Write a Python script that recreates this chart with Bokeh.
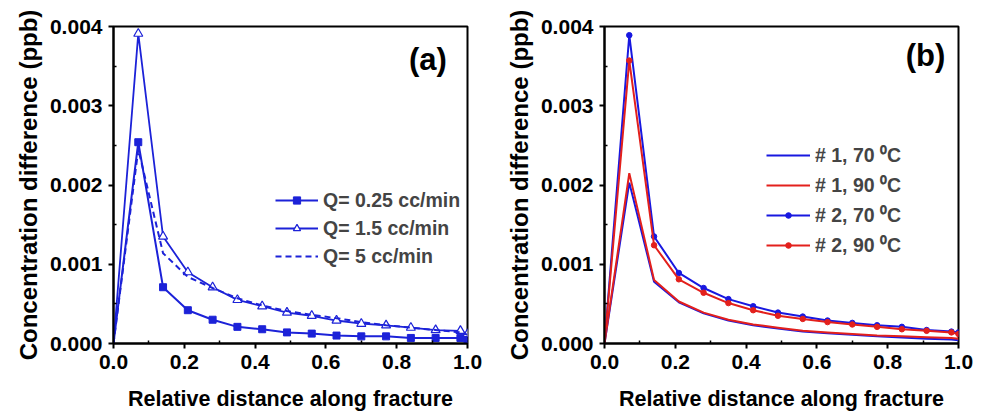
from bokeh.plotting import figure
from bokeh.layouts import row
from bokeh.models import Legend, LegendItem, FixedTicker, NumeralTickFormatter, Range1d
from bokeh.core.properties import value
from bokeh.embed import file_html
from bokeh.resources import INLINE

# ---------------- data ----------------
x = [0.0, 0.07, 0.14, 0.21, 0.28, 0.35, 0.42, 0.49, 0.56, 0.63, 0.70, 0.77, 0.84, 0.91, 0.98, 1.0]

# panel (a)
q025 = [0.0, 0.00254, 0.00071, 0.00042, 0.00030, 0.00021, 0.00018, 0.00014, 0.000125, 0.00010,
        0.00009, 0.00009, 0.00007, 0.00007, 0.00007, 0.00005]
q15 = [0.0, 0.00391, 0.00135, 0.00090, 0.00071, 0.00055, 0.00047, 0.00039, 0.00035, 0.00029,
       0.00025, 0.00023, 0.00020, 0.00017, 0.00016, 0.00012]
q5 = [0.0, 0.00245, 0.00114, 0.00084, 0.00070, 0.00057, 0.00048, 0.00041, 0.00036, 0.00032,
      0.00027, 0.00023, 0.00020, 0.00017, 0.00014, 0.00011]
labels_a = ["Q= 0.25 cc/min", "Q= 1.5 cc/min", "Q= 5 cc/min"]

# panel (b)
s1_70 = [0.0, 0.00203, 0.00078, 0.00052, 0.00038, 0.00029, 0.00023, 0.00019, 0.00015, 0.00013,
         0.00011, 0.00009, 0.000075, 0.00006, 0.00005, 0.00004]
s1_90 = [0.0, 0.00215, 0.00080, 0.00053, 0.00039, 0.00030, 0.00024, 0.00020, 0.00016, 0.00014,
         0.00012, 0.00010, 0.00009, 0.00008, 0.00007, 0.00006]
s2_70 = [0.0, 0.00389, 0.00135, 0.00089, 0.00070, 0.00056, 0.00047, 0.00039, 0.00034, 0.00029,
         0.00026, 0.00023, 0.00021, 0.00017, 0.00015, 0.00014]
s2_90 = [0.0, 0.00357, 0.00124, 0.00081, 0.00064, 0.00051, 0.00042, 0.00035, 0.00031, 0.00027,
         0.00024, 0.00021, 0.00018, 0.00016, 0.00014, 0.00012]
labels_b = ["# 1, 70 \u2070C", "# 1, 90 \u2070C", "# 2, 70 \u2070C", "# 2, 90 \u2070C"]

x_ticks = [0.0, 0.2, 0.4, 0.6, 0.8, 1.0]
y_ticks = [0.0, 0.001, 0.002, 0.003, 0.004]
x_minor = [0.1, 0.3, 0.5, 0.7, 0.9]
y_minor = [0.0005, 0.0015, 0.0025, 0.0035]

BLUE = "#1c22d8"
BLUE_B = "#1818e0"
RED = "#e3201c"
FONT = "Liberation Sans"


def base_fig(w, h, left, right, top, bottom):
    p = figure(width=w, height=h, output_backend="svg", toolbar_location=None,
               x_range=Range1d(0, 1), y_range=Range1d(0, 0.004),
               min_border_left=left, min_border_right=right,
               min_border_top=top, min_border_bottom=bottom)
    p.xgrid.visible = False
    p.ygrid.visible = False
    p.outline_line_color = "black"
    p.outline_line_width = 2
    p.outline_line_alpha = 1
    for ax in (p.xaxis[0], p.yaxis[0]):
        ax.axis_line_width = 2
        ax.major_tick_line_width = 2
        ax.minor_tick_line_width = 1.5
        ax.major_tick_out = 5
        ax.major_tick_in = 0
        ax.minor_tick_in = 3
        ax.minor_tick_out = 0
        ax.major_label_text_font = FONT
        ax.major_label_text_font_style = "bold"
        ax.major_label_text_font_size = "21px"
        ax.major_label_text_color = "black"
        ax.axis_label_text_font = FONT
        ax.axis_label_text_font_style = "bold"
        ax.axis_label_text_color = "black"
    p.xaxis[0].ticker = FixedTicker(ticks=x_ticks, minor_ticks=x_minor)
    p.yaxis[0].ticker = FixedTicker(ticks=y_ticks, minor_ticks=y_minor)
    p.xaxis[0].formatter = NumeralTickFormatter(format="0.0")
    p.yaxis[0].formatter = NumeralTickFormatter(format="0.000")
    p.xaxis[0].axis_label = "Relative distance along fracture"
    p.yaxis[0].axis_label = "Concentration difference (ppb)"
    p.xaxis[0].axis_label_text_font_size = "21.5px"
    p.yaxis[0].axis_label_text_font_size = "24px"
    p.xaxis[0].major_label_standoff = 6
    p.yaxis[0].major_label_standoff = 6
    p.xaxis[0].axis_label_standoff = 15
    p.yaxis[0].axis_label_standoff = 5
    return p


# ---------------- panel (a) ----------------
pa = base_fig(490, 416, 113, 23, 22, 73)
xm = x[1:]
la1 = pa.line(x, q025, line_color=BLUE, line_width=2)
ma1 = pa.scatter(xm, q025[1:], marker="square", size=7, fill_color=BLUE, line_color=BLUE)
la2 = pa.line(x, q15, line_color=BLUE, line_width=1.8)
ma2 = pa.scatter(xm, q15[1:], marker="triangle", size=9, fill_color="white", line_color=BLUE, line_width=1.2)
la3 = pa.line(x, q5, line_color=BLUE, line_width=2, line_dash="6 4")
pa.text(x=[0.888], y=[0.00358], text=["(a)"], text_font=value(FONT), text_font_style="bold",
        text_font_size="31px", text_align="center", text_baseline="middle", text_color="black")
leg_a = Legend(items=[LegendItem(label=labels_a[0], renderers=[la1, ma1]),
                      LegendItem(label=labels_a[1], renderers=[la2, ma2]),
                      LegendItem(label=labels_a[2], renderers=[la3])],
               location=(162, 75), padding=0, margin=0, spacing=4,
               glyph_width=43, glyph_height=18, label_height=24, label_standoff=5,
               label_text_font=FONT, label_text_font_style="bold", label_text_font_size="19.5px",
               background_fill_alpha=0, border_line_alpha=0)
pa.add_layout(leg_a, "center")

# ---------------- panel (b) ----------------
pb = base_fig(493, 416, 114, 25, 26, 69)
lb1 = pb.line(x, s1_70, line_color=BLUE_B, line_width=2)
lb2 = pb.line(x, s1_90, line_color=RED, line_width=2)
lb3 = pb.line(x, s2_70, line_color=BLUE_B, line_width=2)
mb3 = pb.scatter(xm, s2_70[1:], marker="circle", size=5.5, fill_color=BLUE_B, line_color=BLUE_B)
lb4 = pb.line(x, s2_90, line_color=RED, line_width=2)
mb4 = pb.scatter(xm, s2_90[1:], marker="circle", size=5.5, fill_color=RED, line_color=RED)
pb.text(x=[0.907], y=[0.00364], text=["(b)"], text_font=value(FONT), text_font_style="bold",
        text_font_size="31px", text_align="center", text_baseline="middle", text_color="black")
leg_b = Legend(items=[LegendItem(label=labels_b[0], renderers=[lb1]),
                      LegendItem(label=labels_b[1], renderers=[lb2]),
                      LegendItem(label=labels_b[2], renderers=[lb3, mb3]),
                      LegendItem(label=labels_b[3], renderers=[lb4, mb4])],
               location=(162, 85), padding=0, margin=0, spacing=3,
               glyph_width=44, glyph_height=14, label_height=27, label_standoff=5,
               label_text_font=FONT, label_text_font_style="bold", label_text_font_size="19.5px",
               background_fill_alpha=0, border_line_alpha=0)
pb.add_layout(leg_b, "center")

layout = row(pa, pb, spacing=0)
open("out.html", "w").write(file_html(layout, INLINE))
